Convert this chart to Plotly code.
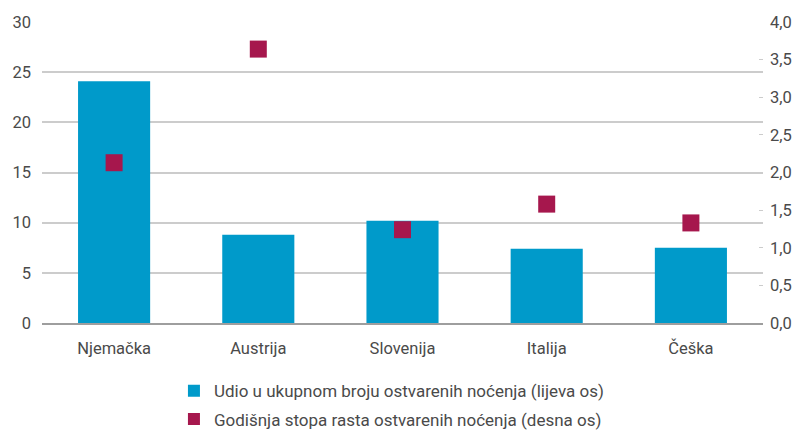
import plotly.graph_objects as go

categories = ["Njemačka", "Austrija", "Slovenija", "Italija", "Češka"]
udio = [24.1, 8.8, 10.2, 7.4, 7.5]
stopa = [2.13, 3.64, 1.24, 1.58, 1.33]
left_ticks = [0, 5, 10, 15, 20, 25, 30]
right_ticks = [0, 0.5, 1, 1.5, 2, 2.5, 3, 3.5, 4]
right_labels = ["0,0", "0,5", "1,0", "1,5", "2,0", "2,5", "3,0", "3,5", "4,0"]

BLUE = "#009ACA"
RED = "#A6174D"
TXT = "#4a4a4a"

fig = go.Figure()
fig.add_trace(go.Bar(x=categories, y=udio, name="Udio u ukupnom broju ostvarenih noćenja (lijeva os)",
                     marker=dict(color=BLUE, line=dict(width=0)), width=0.5, yaxis="y",
                     legendgroup="a"))
fig.add_trace(go.Scatter(x=categories, y=stopa, mode="markers",
                         name="Godišnja stopa rasta ostvarenih noćenja (desna os)",
                         marker=dict(symbol="square", size=17, color=RED, line=dict(width=0)),
                         yaxis="y2", legendgroup="b"))

fig.update_layout(
    width=795, height=422,
    margin=dict(l=34, r=40, t=14, b=107, autoexpand=False),
    paper_bgcolor="white", plot_bgcolor="white",
    font=dict(family="Roboto, sans-serif", size=16, color=TXT),
    showlegend=True,
    legend=dict(orientation="v", x=0.183, xanchor="left", y=-0.167, yanchor="top",
                font=dict(size=17, color=TXT), bgcolor="rgba(0,0,0,0)",
                itemwidth=30, tracegroupgap=3, itemsizing="constant"),
    xaxis=dict(showgrid=False, showline=True, linecolor="#9e9e9e", linewidth=2,
               ticks="", tickfont=dict(size=16.5, color=TXT), ticklabelstandoff=9,
               automargin=False),
    yaxis=dict(range=[0, 30], tickvals=left_ticks, showgrid=True, gridcolor="#cccccc",
               gridwidth=2, zeroline=False, showline=False, ticks="",
               tickfont=dict(size=16.5, color=TXT), ticklabelstandoff=10, automargin=False),
    yaxis2=dict(range=[0, 4], tickvals=right_ticks, ticktext=right_labels, overlaying="y",
                side="right", showgrid=False, zeroline=False, showline=False,
                ticks="inside", ticklen=4, tickcolor="#cccccc", tickwidth=1,
                tickfont=dict(size=16.5, color=TXT), ticklabelstandoff=6, automargin=False),
    bargap=0.5,
)
fig.write_html("out.html")
